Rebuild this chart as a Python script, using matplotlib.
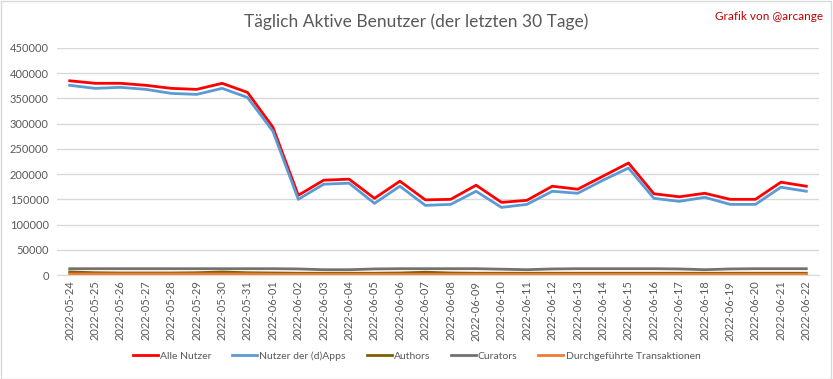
import matplotlib
matplotlib.use("Agg")
import matplotlib.pyplot as plt
import numpy as np
import pandas as pd

dates = pd.date_range("2022-05-24", "2022-06-22").strftime("%Y-%m-%d").tolist()

alle_nutzer = [385000, 380000, 380000, 376000, 370000, 368000, 380000, 362000, 293000, 158000,
               188000, 190000, 152000, 186000, 149000, 150000, 178000, 144000, 148000, 176000,
               170000, 196000, 222000, 161000, 155000, 162000, 150000, 150000, 184000, 176000]
dapps = [376000, 370000, 372000, 368000, 360000, 358000, 370000, 352000, 285000, 150000,
         180000, 182000, 142000, 176000, 138000, 140000, 166000, 134000, 140000, 166000,
         162000, 188000, 212000, 152000, 146000, 154000, 140000, 140000, 174000, 166000]
authors = [6000, 4500, 4000, 4000, 4000, 4500, 6000, 4500, 4000, 3500,
           3500, 3500, 3500, 4000, 5500, 4000, 3500, 3500, 3500, 3500,
           3500, 3500, 3500, 3500, 3500, 3500, 3500, 3500, 3500, 3500]
curators = [12500, 12500, 12500, 12500, 12500, 12500, 12500, 12500, 12500, 12000,
            10500, 10500, 12000, 12500, 12500, 12500, 12500, 11500, 10500, 12000,
            12500, 12500, 12500, 12500, 12000, 10500, 12000, 12500, 12500, 12500]
transaktionen = [2000, 2000, 2000, 2000, 2000, 2000, 2000, 2000, 1500, 1500,
                 1500, 1500, 1500, 1500, 1500, 1500, 1500, 1500, 1500, 1500,
                 1500, 1500, 1500, 1500, 1500, 1500, 1500, 1500, 1500, 1500]

series = [
    ("Alle Nutzer", alle_nutzer, "#FF0000"),
    ("Nutzer der (d)Apps", dapps, "#5B9BD5"),
    ("Authors", authors, "#7F6000"),
    ("Curators", curators, "#767171"),
    ("Durchgeführte Transaktionen", transaktionen, "#ED7D31"),
]

plt.rcParams['font.family'] = ['Lato', 'DejaVu Sans']

fig = plt.figure(figsize=(8.33, 3.79), dpi=100)
ax = fig.add_axes([57/833, 1-275/379, (819-57)/833, (275-48)/379])

x = np.arange(len(dates))
for name, vals, col in series:
    ax.plot(x, vals, color=col, lw=2, label=name, solid_joinstyle='round')

ax.set_xlim(-0.5, len(dates)-0.5)
ax.set_ylim(0, 450000)
ax.set_yticks(np.arange(0, 450001, 50000))
ax.set_yticklabels([str(v) for v in range(0, 450001, 50000)])
ax.set_xticks(x)
ax.set_xticklabels(dates, rotation=90)
ax.tick_params(axis='both', colors='#595959', labelsize=8, length=0)
ax.tick_params(axis='y', pad=6)
ax.tick_params(axis='x', pad=4)
ax.grid(axis='y', color='#D9D9D9', lw=1)
ax.set_axisbelow(True)
for s in ['top', 'right', 'left']:
    ax.spines[s].set_visible(False)
ax.spines['bottom'].set_color('#D9D9D9')

fig.text(0.5, 1-22/379, "Täglich Aktive Benutzer (der letzten 30 Tage)", ha='center', va='center',
         fontsize=12.5, color='#595959')
fig.text(823/833, 1-16/379, "Grafik von @arcange", ha='right', va='center', fontsize=8.5, color='#C00000')

leg = fig.legend(loc='center', bbox_to_anchor=(0.5, 1-356/379), ncol=5, frameon=False,
                 fontsize=7.5, handlelength=2.4, handletextpad=0.2, columnspacing=2.0)
for t in leg.get_texts():
    t.set_color('#595959')

fig.patches.append(plt.Rectangle((0.001, 0.001), 0.997, 0.996, transform=fig.transFigure,
                                 fill=False, edgecolor='#D9D9D9', lw=1))

fig.savefig("out.png", dpi=100)
